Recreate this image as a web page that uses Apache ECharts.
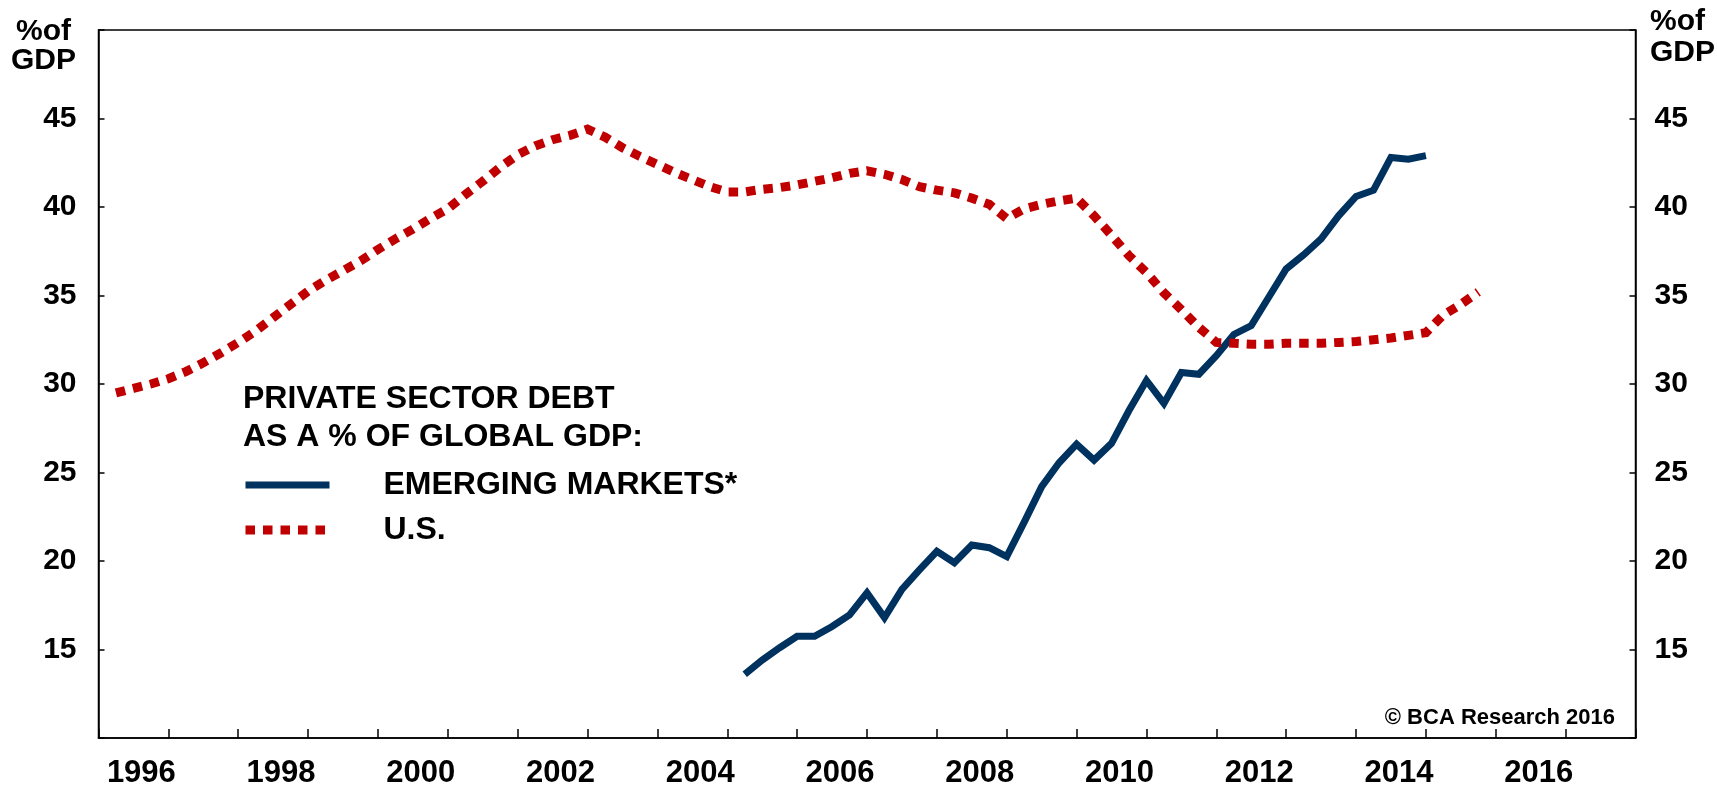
<!DOCTYPE html>
<html>
<head>
<meta charset="utf-8">
<script src="https://cdn.jsdelivr.net/npm/echarts@6/dist/echarts.min.js"></script>
<style>
    html, body { margin: 0; padding: 0; background: #fff; }
    #chart-container { width: 1717px; height: 789px; }
</style>
</head>
<body>
<div id="chart-container"></div>
<script>
var FONT = '"Liberation Sans", Arial, sans-serif';

// quarterly data, x = decimal year
var seriesNames = ["EMERGING MARKETS*", "U.S."];
var emStart = 2004.25;
var emValues = [
    13.6, 14.4, 15.1, 15.75, 15.75, 16.3, 16.95, 18.2, 16.8, 18.4,
    19.5, 20.55, 19.9, 20.9, 20.75, 20.25, 22.2, 24.2, 25.55, 26.6,
    25.7, 26.65, 28.5, 30.2, 28.9, 30.65, 30.55, 31.6, 32.8, 33.3,
    34.9, 36.5, 37.3, 38.2, 39.5, 40.6, 40.95, 42.8, 42.7, 42.9
];
var usStart = 1995.25;
var usValues = [
    29.5, 29.75, 30.0, 30.3, 30.7, 31.2, 31.75, 32.35, 33.0, 33.75,
    34.5, 35.25, 35.85, 36.4, 36.95, 37.6, 38.2, 38.75, 39.35, 39.9,
    40.7, 41.45, 42.25, 42.95, 43.45, 43.8, 44.05, 44.4, 43.95, 43.35,
    42.85, 42.4, 41.95, 41.55, 41.15, 40.85, 40.85, 41.0, 41.1, 41.25,
    41.45, 41.65, 41.9, 42.05, 41.85, 41.55, 41.15, 40.95, 40.8, 40.5,
    40.15, 39.35, 39.9, 40.15, 40.35, 40.5, 39.5, 38.4, 37.25, 36.3,
    35.15, 34.2, 33.2, 32.35, 32.3, 32.25, 32.25, 32.3, 32.3, 32.3,
    32.35, 32.4, 32.5, 32.6, 32.75, 32.9, 33.9, 34.5, 35.2
];
var yearMin = 1995, yearMax = 2017;
var yMin = 10, yMax = 50, yStep = 5;
var unitLabel = "%of\nGDP";
var legendTitle = "PRIVATE SECTOR DEBT\nAS A % OF GLOBAL GDP:";
var copyright = "\u00a9 BCA Research 2016";

function toPairs(start, values) {
    var out = [];
    values.forEach(function (v, i) {
        out.push([start + i * 0.25, v]);
    });
    return out;
}

var chart = echarts.init(document.getElementById("chart-container"));

var yLabel = {
    color: "#000",
    fontSize: 30,
    fontWeight: "bold",
    fontFamily: FONT,
    padding: [7, 0, 0, 0],
    formatter: function (v) {
        return v === yMin || v === yMax ? "" : String(v);
    }
};

var option = {
    animation: false,
    backgroundColor: "#fff",
    grid: {
        left: 98.5,
        right: 81.5,
        top: 30,
        bottom: 40,
        show: true,
        borderColor: "#000",
        borderWidth: 1.5
    },
    legend: {
        data: seriesNames,
        orient: "vertical",
        left: 241,
        top: 468,
        padding: 0,
        itemWidth: 84,
        itemHeight: 14,
        itemGap: 11,
        lineStyle: { width: "inherit", type: "inherit", cap: "butt" },
        itemStyle: { color: "rgba(0,0,0,0)", borderWidth: 0, opacity: 0 },
        textStyle: {
            color: "#000",
            fontSize: 32,
            fontWeight: "bold",
            fontFamily: FONT,
            lineHeight: 34,
            padding: [0, 0, 0, 49]
        }
    },
    xAxis: {
        type: "value",
        min: yearMin,
        max: yearMax,
        interval: 1,
        axisLine: { onZero: false, lineStyle: { color: "#000", width: 1.5 } },
        axisTick: { inside: true, length: 9, lineStyle: { color: "#000", width: 1.5 } },
        splitLine: { show: false },
        axisLabel: {
            margin: 20,
            color: "#000",
            fontSize: 31,
            fontWeight: "bold",
            fontFamily: FONT,
            padding: [0, 54, 0, 0],
            formatter: function (v) {
                var y = Math.round(v);
                return y % 2 === 0 ? String(y) : "";
            }
        }
    },
    yAxis: [
        {
            type: "value",
            position: "left",
            min: yMin,
            max: yMax,
            interval: yStep,
            axisLine: { show: true, onZero: false, lineStyle: { color: "#000", width: 1.5 } },
            axisTick: { show: true, inside: true, length: 6, lineStyle: { color: "#000", width: 1.5 } },
            splitLine: { show: false },
            axisLabel: Object.assign({ margin: 22 }, yLabel)
        },
        {
            type: "value",
            position: "right",
            min: yMin,
            max: yMax,
            interval: yStep,
            axisLine: { show: true, onZero: false, lineStyle: { color: "#000", width: 1.5 } },
            axisTick: { show: true, inside: true, length: 6, lineStyle: { color: "#000", width: 1.5 } },
            splitLine: { show: false },
            axisLabel: Object.assign({ margin: 19 }, yLabel)
        }
    ],
    graphic: [
        {
            type: "text",
            x: 43.5,
            y: 46,
            style: {
                text: unitLabel,
                fill: "#000",
                font: "bold 30px " + FONT,
                lineHeight: 29,
                textAlign: "center",
                textVerticalAlign: "middle"
            }
        },
        {
            type: "text",
            x: 1650,
            y: 37,
            style: {
                text: unitLabel,
                fill: "#000",
                font: "bold 30px " + FONT,
                lineHeight: 31,
                textAlign: "left",
                textVerticalAlign: "middle"
            }
        },
        {
            type: "text",
            x: 243,
            y: 418,
            style: {
                text: legendTitle,
                fill: "#000",
                font: "bold 32px " + FONT,
                lineHeight: 38.5,
                textAlign: "left",
                textVerticalAlign: "middle"
            }
        },
        {
            type: "text",
            x: 1615,
            y: 718,
            style: {
                text: copyright,
                fill: "#000",
                font: "bold 22px " + FONT,
                textAlign: "right",
                textVerticalAlign: "middle"
            }
        }
    ],
    series: [
        {
            name: seriesNames[0],
            type: "line",
            symbol: "none",
            showSymbol: false,
            lineStyle: { color: "#00325f", width: 7, join: "miter", cap: "butt" },
            itemStyle: { color: "#00325f" },
            data: toPairs(emStart, emValues)
        },
        {
            name: seriesNames[1],
            type: "line",
            symbol: "none",
            showSymbol: false,
            lineStyle: { color: "#c00000", width: 9, type: [9.5, 8], cap: "butt", join: "miter" },
            itemStyle: { color: "#c00000" },
            data: toPairs(usStart, usValues)
        }
    ]
};

chart.setOption(option);
</script>
</body>
</html>
